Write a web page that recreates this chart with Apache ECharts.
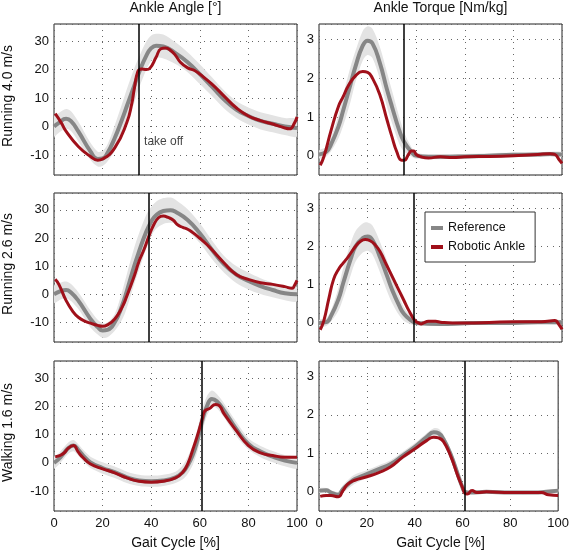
<!DOCTYPE html>
<html><head><meta charset="utf-8">
<script src="https://cdn.jsdelivr.net/npm/echarts@6/dist/echarts.min.js"></script>
<style>html,body{margin:0;padding:0;background:#fff}#c{width:572px;height:551px}</style>
</head><body><div id="c"></div>
<script>
// ---------- data ----------
const gaitTicks = [0, 20, 40, 60, 80, 100];
const colTitles = ['Ankle Angle [°]', 'Ankle Torque [Nm/kg]'];
const rowLabels = ['Running 4.0 m/s', 'Running 2.6 m/s', 'Walking 1.6 m/s'];
const xAxisName = 'Gait Cycle [%]';
const takeOff = [35, 39, 61];
const takeOffText = 'take off';
const takeOffTextY = -5.3;
const legendNames = ['Reference', 'Robotic Ankle'];

// Running 4.0 m/s - angle
const angRun40RefX = [0,2,5,7,10,15,18,20,22,25,28,30,33,35,38,40,42,45,50,55,60,65,70,75,80,85,90,95,100];
const angRun40Ref  = [0,1.3,2.7,1.9,-1.7,-8.7,-11.4,-11.2,-9.3,-4,2.5,7.2,14.3,19,24.9,27.5,28.4,28.1,25.8,22.6,18.4,14,9.5,6,3.7,2,1,0,-0.5];
const angRun40Sd   = [3.5,3.5,3.5,3.5,3.5,3,2.6,2.6,3,4.5,5.5,6,6,5.5,5,4.5,4.2,4.2,3.8,3.5,3.5,3.3,3.2,3,3,3,3,3,3];
const angRun40RobX = [0.5,3,5,10,15,18,20,25,30,32,33,34.5,36,38,39.5,42,44,46,48,50,52,55,58,60,65,70,75,80,85,90,95,97,99,100];
const angRun40Rob  = [4.5,1.3,-1.7,-7,-10.5,-11.8,-11.4,-7.5,1.5,8,13,19.3,20.2,20,20.5,24.3,27.3,27.6,26.7,25,22.6,20.6,19.6,18.4,14.9,10.7,6.6,3.7,2.1,0.9,-0.5,-0.8,1.3,3.4];

// Running 4.0 m/s - torque
const trqRun40RefX = [0,3,5,8,10,13,15,18,20,22,25,28,30,33,35,38,40,45,50,60,70,80,90,95,100];
const trqRun40Ref  = [0.03,0.1,0.3,0.75,1.18,1.85,2.3,2.84,2.97,2.9,2.4,1.7,1.27,0.66,0.36,0.1,0,-0.03,-0.03,-0.02,0,0.02,0.03,0.04,0.03];
const trqRun40Sd   = [0.1,0.12,0.18,0.3,0.4,0.45,0.4,0.38,0.37,0.38,0.42,0.45,0.42,0.35,0.25,0.12,0.08,0.06,0.06,0.06,0.06,0.06,0.06,0.06,0.06];
const trqRun40RobX = [0.5,2,5,8,10,12,15,18,20,22,25,28,30,32,34,35,37,38,39,40,42,45,50,55,60,70,80,90,95,97,99,100];
const trqRun40Rob  = [-0.25,-0.03,0.66,1.27,1.53,1.8,2.06,2.17,2.15,2.0,1.58,0.92,0.49,0.1,-0.12,-0.12,0.05,0.12,0.12,0.03,-0.03,-0.06,-0.03,-0.05,-0.03,-0.02,0,0.03,0.05,0.03,-0.12,-0.2];

// Running 2.6 m/s - angle
const angRun26RefX = [0,3,5,7,10,15,18,20,22,25,28,30,33,35,38,40,42,45,48,50,55,60,65,70,75,80,85,90,95,100];
const angRun26Ref  = [0,1.2,1.5,0.6,-2.3,-8.8,-11.7,-12.9,-12.7,-10,-4.1,1.2,10,15.2,22.3,25.8,28.1,29.6,29.9,29.3,26.4,21.7,15.8,10.6,7,4.7,2.9,1.5,0.35,0];
const angRun26Sd   = [3,3,3,3,3,3,2.6,2.6,2.6,3,5,6,6.5,6.5,6,5.2,4.8,4.6,4.5,4.3,3.8,3.5,3.3,3,3,3,2.8,2.6,2.5,2.5];
const angRun26RobX = [0.5,2,5,8,10,13,15,18,20,22,25,28,30,33,35,37,39,41,43,45,47,49,51,53,55,57,60,63,65,70,75,80,85,90,95,98,99,100];
const angRun26Rob  = [5.3,3.5,-2.3,-6.4,-8.2,-9.7,-10.3,-11.1,-11.4,-10.9,-8.8,-4.7,-0.6,6.4,11.7,15.8,20.5,24.6,27.2,27.8,27.3,26.4,24.6,23.8,23.1,22,19.9,17.6,15.8,11.1,7,5.3,4.1,3.5,2.7,2.1,3.2,4.9];

// Running 2.6 m/s - torque
const trqRun26RefX = [0,3,5,8,10,13,15,18,20,22,25,28,30,33,35,38,40,50,60,70,80,90,100];
const trqRun26Ref  = [0,0.02,0.19,0.62,1.05,1.66,2.0,2.22,2.26,2.17,1.74,1.23,0.88,0.45,0.23,0.06,0,-0.03,-0.01,0,0,0.02,0.02];
const trqRun26Sd   = [0.08,0.1,0.15,0.3,0.4,0.42,0.4,0.38,0.37,0.38,0.4,0.4,0.35,0.25,0.18,0.1,0.06,0.05,0.05,0.05,0.05,0.05,0.05];
const trqRun26RobX = [0.5,2,4,6,8,10,12,15,17,19,21,23,25,28,30,33,35,37,39,40,41,42,43,45,48,50,55,60,70,80,90,95,97,99,100];
const trqRun26Rob  = [-0.18,0.06,0.62,1.14,1.4,1.57,1.73,2.0,2.13,2.18,2.15,2.05,1.88,1.49,1.23,0.84,0.58,0.32,0.1,0.03,0,-0.03,0,0.04,0.04,0.02,0,0,0.01,0.03,0.03,0.05,0.06,-0.07,-0.17];

// Walking 1.6 m/s - angle
const angWalk16RefX = [0,2,4,6,8,10,12,15,20,25,30,35,40,45,50,53,55,57,59,61,63,65,67,70,75,80,85,90,95,100];
const angWalk16Ref  = [0,1.4,3.4,5.3,6.1,4.6,2.6,0.2,-1.8,-3.3,-5.1,-6.2,-6.5,-6.2,-5.1,-3.3,-0.9,2.6,7.9,14.9,20.2,22.6,21.8,18.5,12,6.7,4,2.2,0.8,0];
const angWalk16Sd   = [2,2,2,2,2,2,2,2,2,2,2,2,2,2,2,2.5,3,3.5,4,4,3.5,3,2.5,2.5,2.5,2,2,2,2,2];
const angWalk16RobX = [0.5,2,4,6,8,10,12,15,20,25,30,35,40,45,50,53,55,57,59,61,62,64,66.5,68,70,75,80,85,90,95,100];
const angWalk16Rob  = [2.2,2.5,3.4,5.3,6.1,3.8,1.8,-0.4,-2.1,-3.5,-5.3,-6.5,-6.8,-6.5,-5.3,-3.3,-0.4,4.4,9.6,15.5,18.3,19.2,20.6,20.2,17.3,11.4,6.1,3.5,2.6,2,2];

// Walking 1.6 m/s - torque
const trqWalk16RefX = [0,3,5,8,10,13,15,20,25,30,35,40,45,48,50,52,55,58,60,61,63,70,80,90,95,100];
const trqWalk16Ref  = [0.03,0.04,-0.02,-0.08,0.07,0.24,0.33,0.46,0.59,0.72,0.94,1.16,1.42,1.55,1.52,1.37,0.98,0.46,0.11,0,-0.02,0,-0.02,-0.02,0,0.03];
const trqWalk16Sd   = [0.06,0.06,0.06,0.08,0.1,0.12,0.12,0.1,0.1,0.1,0.1,0.1,0.1,0.1,0.12,0.12,0.14,0.14,0.1,0.06,0.04,0.04,0.04,0.04,0.04,0.04];
const trqWalk16RobX = [0.5,3,5,8,10,12,15,20,25,30,35,40,45,48,50,52,55,58,60,61,62,64,66,70,80,90,93,96,100];
const trqWalk16Rob  = [-0.12,-0.1,-0.1,-0.13,0.03,0.2,0.3,0.39,0.5,0.65,0.9,1.11,1.33,1.42,1.4,1.31,0.94,0.42,0.11,-0.04,-0.06,0.03,-0.02,0,-0.02,-0.02,-0.02,-0.08,-0.1];

const angleRange = [-17, 36];
const torqueRange = [-0.5, 3.4];

// ---------- layout / style ----------
const FONT = '"Liberation Sans", Arial, sans-serif';
const RED = '#a0101a';
const GRAY = '#868686';
const BAND = '#e3e3e3';
const colLeft = [54, 319];
const colWidth = 243;
const rowTop = [24, 193, 361];
const rowHeight = [151, 149, 150];

const panels = [
  {row:0,col:0,refX:angRun40RefX,ref:angRun40Ref,sd:angRun40Sd,robX:angRun40RobX,rob:angRun40Rob,range:angleRange},
  {row:0,col:1,refX:trqRun40RefX,ref:trqRun40Ref,sd:trqRun40Sd,robX:trqRun40RobX,rob:trqRun40Rob,range:torqueRange},
  {row:1,col:0,refX:angRun26RefX,ref:angRun26Ref,sd:angRun26Sd,robX:angRun26RobX,rob:angRun26Rob,range:angleRange},
  {row:1,col:1,refX:trqRun26RefX,ref:trqRun26Ref,sd:trqRun26Sd,robX:trqRun26RobX,rob:trqRun26Rob,range:torqueRange},
  {row:2,col:0,refX:angWalk16RefX,ref:angWalk16Ref,sd:angWalk16Sd,robX:angWalk16RobX,rob:angWalk16Rob,range:angleRange},
  {row:2,col:1,refX:trqWalk16RefX,ref:trqWalk16Ref,sd:trqWalk16Sd,robX:trqWalk16RobX,rob:trqWalk16Rob,range:torqueRange}
];

const zip = (xs, ys) => xs.map((x, i) => [x, ys[i]]);
const grid = [], xAxis = [], yAxis = [], series = [];
const dotted = {color: '#666', width: 1, type: [1, 5]};

panels.forEach((p, i) => {
  grid.push({left: colLeft[p.col], top: rowTop[p.row], width: colWidth, height: rowHeight[p.row],
    show: true, borderColor: '#222', borderWidth: 1, backgroundColor: '#fff', containLabel: false});
  xAxis.push({type: 'value', gridIndex: i, min: gaitTicks[0], max: gaitTicks[gaitTicks.length - 1],
    interval: gaitTicks[1] - gaitTicks[0],
    axisLine: {show: false}, axisTick: {show: false},
    axisLabel: {show: p.row === 2, fontSize: 13, fontFamily: FONT, color: '#111', margin: 6},
    splitLine: {show: true, lineStyle: dotted}});
  yAxis.push({type: 'value', gridIndex: i, min: p.range[0], max: p.range[1], splitNumber: 5,
    axisLine: {show: false}, axisTick: {show: false},
    axisLabel: {fontSize: 13, fontFamily: FONT, color: '#111', margin: 5, showMinLabel: false, showMaxLabel: false},
    splitLine: {show: true, lineStyle: dotted}});
  // ±SD band of the reference, drawn through the axis scales
  series.push({type: 'custom', xAxisIndex: i, yAxisIndex: i, silent: true, z: 1, clip: true,
    data: [[p.refX[0], p.ref[0]]],
    renderItem: (params, api) => {
      const up = p.refX.map((x, k) => api.coord([x, p.ref[k] + p.sd[k]]));
      const lo = p.refX.map((x, k) => api.coord([x, p.ref[k] - p.sd[k]])).reverse();
      return {type: 'polygon', shape: {points: up.concat(lo), smooth: 0.3}, style: {fill: BAND}};
    }});
  series.push({name: legendNames[0], type: 'line', xAxisIndex: i, yAxisIndex: i, data: zip(p.refX, p.ref),
    smooth: true, symbol: 'none', lineStyle: {color: GRAY, width: 4}, itemStyle: {color: GRAY}, z: 2});
  series.push({name: legendNames[1], type: 'line', xAxisIndex: i, yAxisIndex: i, data: zip(p.robX, p.rob),
    smooth: true, symbol: 'none', lineStyle: {color: RED, width: 3}, itemStyle: {color: RED}, z: 3,
    markLine: {silent: true, symbol: 'none', animation: false, label: {show: false},
      lineStyle: {color: '#000', width: 1.5, type: 'solid'}, data: [{xAxis: takeOff[p.row]}]}});
});

// take off label in the first panel
series.push({type: 'scatter', xAxisIndex: 0, yAxisIndex: 0, data: [[takeOff[0], takeOffTextY]], symbolSize: 0,
  silent: true, z: 5,
  label: {show: true, position: 'right', distance: 5, formatter: takeOffText, fontSize: 12, fontFamily: FONT, color: '#111'}});

const graphic = [];
colTitles.forEach((t, c) => graphic.push({type: 'text', x: colLeft[c] + colWidth / 2, y: 8,
  style: {text: t, font: '14px ' + FONT, fill: '#111', align: 'center', verticalAlign: 'middle'}}));
colTitles.forEach((t, c) => graphic.push({type: 'text', x: colLeft[c] + colWidth / 2, y: 543,
  style: {text: xAxisName, font: '14px ' + FONT, fill: '#111', align: 'center', verticalAlign: 'middle'}}));
rowLabels.forEach((t, r) => graphic.push({type: 'text', x: 8.5, y: rowTop[r] + rowHeight[r] / 2 - 3.5, rotation: Math.PI / 2,
  style: {text: t, font: '14px ' + FONT, fill: '#111', align: 'center', verticalAlign: 'middle'}}));

const chart = echarts.init(document.getElementById('c'), null, {renderer: 'canvas'});
chart.setOption({
  animation: false,
  backgroundColor: '#fff',
  grid, xAxis, yAxis, series, graphic,
  legend: {data: legendNames, orient: 'vertical', left: 425, top: 212, padding: [8, 10, 7, 6],
    itemGap: 3, itemWidth: 12, itemHeight: 4, icon: 'rect', backgroundColor: '#fff',
    borderColor: '#333', borderWidth: 1, selectedMode: false,
    textStyle: {fontSize: 12.5, fontFamily: FONT, color: '#111', lineHeight: 16}}
});
</script></body></html>
